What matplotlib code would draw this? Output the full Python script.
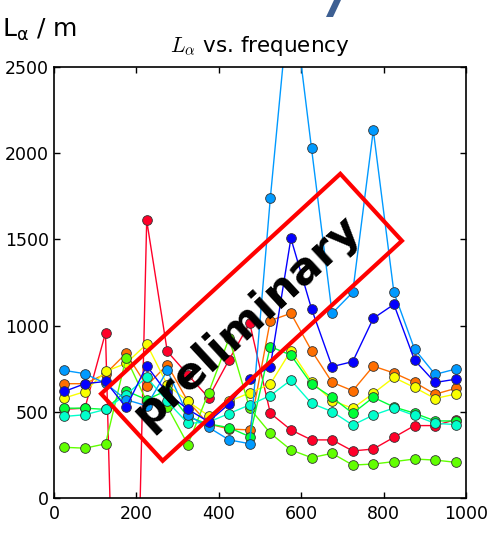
import numpy as np
import matplotlib
matplotlib.use("Agg")
import matplotlib.pyplot as plt
from matplotlib.patches import Polygon

# frequency bins (x) and L_alpha values for each trace
freq = [25, 75, 125, 175, 225, 275, 325, 375, 425, 475,
        525, 575, 625, 675, 725, 775, 825, 875, 925, 975]

red = [515, 521, 958, -3500, 1610, 850, 715, 582, 802, 1015,
       492, 395, 337, 337, 273, 284, 352, 420, 420, 455]
orange = [663, 663, 720, 839, 651, 773, 560, 430, 400, 395,
          1029, 1071, 855, 671, 622, 765, 725, 671, 602, 636]
yellow = [580, 617, 734, 781, 893, 657, 560, 478, 560, 610,
          661, 855, 675, 565, 520, 607, 699, 641, 577, 603]
lime = [294, 289, 314, 814, 560, 530, 310, 610, 926, 520,
        376, 279, 234, 259, 191, 197, 211, 226, 220, 207]
green = [521, 521, 514, 622, 570, 626, 470, 430, 408, 356,
         878, 829, 661, 584, 491, 584, 528, 492, 447, 447]
cyan = [473, 483, 514, 600, 700, 560, 433, 440, 490, 540,
        594, 684, 549, 501, 423, 481, 522, 479, 433, 426]
skyblue = [740, 721, 665, 570, 535, 740, 481, 410, 337, 315,
           1738, 3000, 2029, 1071, 1193, 2133, 1193, 864, 717, 748]
blue = [618, 663, 676, 526, 767, 607, 514, 443, 545, 690,
        762, 1506, 1098, 762, 791, 1042, 1123, 800, 670, 689]

series = [red, orange, yellow, lime, green, cyan, skyblue, blue]
xticks = [0, 200, 400, 600, 800, 1000]
yticks = [0, 500, 1000, 1500, 2000, 2500]

W, H = 490, 542
fig = plt.figure(figsize=(W / 100, H / 100), dpi=100, facecolor="white")
ax = fig.add_axes([54 / W, 1 - 498 / H, 412 / W, 431 / H])

colors = plt.get_cmap("gist_rainbow")(np.linspace(0, 0.77, len(series)))
for vals, c in zip(series, colors):
    ax.plot(freq, vals, "-o", color=c, lw=1.0, markersize=7,
            markerfacecolor=c, markeredgecolor="#333333", markeredgewidth=0.6)

ax.set_xlim(0, 1000)
ax.set_ylim(0, 2500)
ax.set_xticks(xticks)
ax.set_yticks(yticks)
ax.tick_params(direction="in", length=4, width=1, top=True, right=True,
               labelsize=12.5, colors="black")
ax.tick_params(axis="x", pad=5)
ax.tick_params(axis="y", pad=3.5)
for sp in ax.spines.values():
    sp.set_linewidth(1.2)

ax.set_title(r"$L_\alpha$ vs. frequency", fontsize=15.5, pad=11,
             math_fontfamily="cm")

fig.text(2 / W, 1 - 37 / H, r"L$_\mathregular{\alpha}$ / m", fontsize=18,
         va="baseline", ha="left")

# slanted logo stroke cut off at the top of the slide
stroke = np.array([[326, 17], [333, 17], [341, 0], [334, 0]], dtype=float)
fig.patches.append(Polygon(np.c_[stroke[:, 0] / W, 1 - stroke[:, 1] / H],
                           closed=True, fc="#3d5f92", ec="none",
                           transform=fig.transFigure))

# "preliminary" stamp
ang = 42.6
cx, cy, bw, bh = 251.5, 317.3, 325, 91
t = np.deg2rad(ang)
u = np.array([np.cos(t), np.sin(t)])
v = np.array([-np.sin(t), np.cos(t)])
c0 = np.array([cx, H - cy])
corners = [c0 + sx * bw / 2 * u + sy * bh / 2 * v
           for sx, sy in [(-1, -1), (1, -1), (1, 1), (-1, 1)]]
corners = np.array(corners) / [W, H]
fig.patches.append(Polygon(corners, closed=True, fill=False, ec="red",
                           lw=3, transform=fig.transFigure, zorder=10))
fig.text(246 / W, 1 - 321 / H, "preliminary", rotation=ang,
         rotation_mode="anchor", ha="center", va="center",
         fontsize=32.5, fontweight="bold", color="black", zorder=11)

fig.savefig("out.png", dpi=100, facecolor="white")
